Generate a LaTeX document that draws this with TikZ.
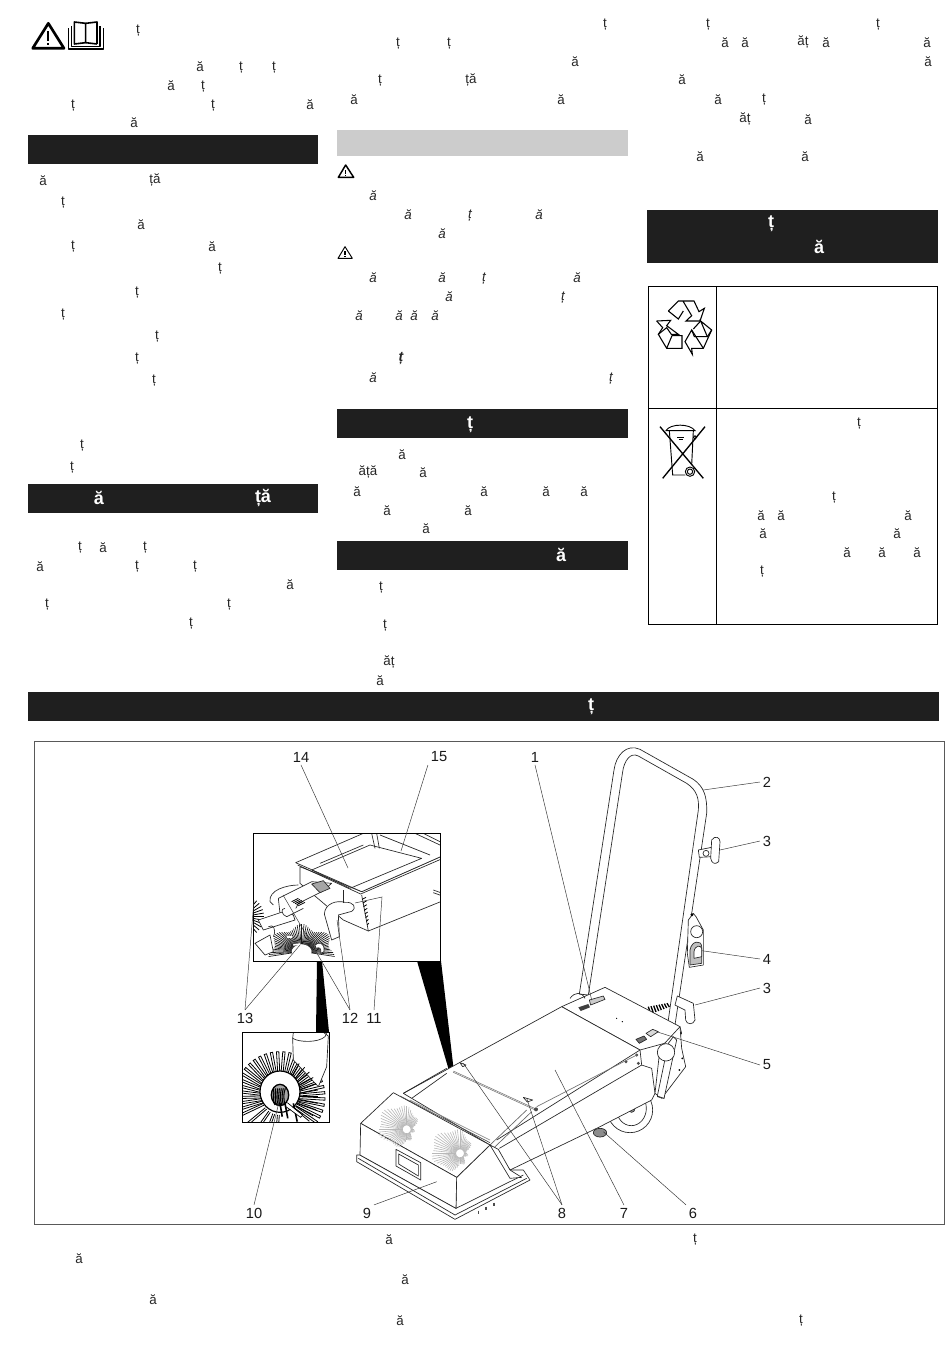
\documentclass[tikz,border=0pt]{standalone}
\usepackage{fontspec}
\setmainfont{Liberation Sans}
\begin{document}
\begin{tikzpicture}[x=0.75pt,y=-0.75pt,
  glyph/.style={inner sep=0pt,yshift=-1pt,font=\fontsize{10pt}{10pt}\selectfont,text=black!85},
  glyphit/.style={glyph,font=\fontsize{10pt}{10pt}\itshape\selectfont},
  glyphbi/.style={glyph,font=\fontsize{10.5pt}{10pt}\bfseries\itshape\selectfont},
  headg/.style={inner sep=0pt,font=\fontsize{13.5pt}{13pt}\bfseries\selectfont,text=white},
  bar/.style={fill=black!88,draw=none},
  num/.style={inner sep=0pt,outer sep=2.2pt,font=\fontsize{11pt}{11pt}\selectfont,text=black!90},
  lead/.style={line width=0.35pt,draw=black!80},
  mach/.style={line width=0.5pt,draw=black!85,line join=round},
  machw/.style={mach,fill=white},
  z1/.style={shift={(340,740)},x=0.25pt,y=-0.25pt},
  z2/.style={shift={(230,820)},x=0.25pt,y=-0.25pt},
  z3/.style={shift={(640,200)},x=0.25pt,y=-0.25pt},
  z4/.style={shift={(20,0)},x=0.25pt,y=-0.25pt},
  z5/.style={shift={(330,120)},x=0.25pt,y=-0.25pt},
  z6/.style={shift={(350,1090)},x=0.25pt,y=-0.25pt},
  z7/.style={shift={(650,295)},x=0.25pt,y=-0.25pt}]
\useasboundingbox (0,0) rectangle (950,1370);
\fill[white] (0,0) rectangle (950,1370);

% ---- bars
\fill[bar] (28,135) rectangle (318,164);
\fill[bar] (28,484) rectangle (318,513);
\fill[black!20] (337,130) rectangle (628,156);
\fill[bar] (337,409) rectangle (628,438);
\fill[bar] (337,541) rectangle (628,570);
\fill[bar] (647,210) rectangle (938,263);
\fill[bar] (28,692) rectangle (939,721);

% ---- text glyphs
\foreach \x/\y/\t [count=\i] in {
 138/29/ț,200/65/ă,241/66/ț,274/66/ț,171/84/ă,203/85/ț,73/104/ț,213/104/ț,310/103/ă,134/121/ă,
 43/179/ă,155/179/ță,63/201/ț,141/223/ă,73/245/ț,212/245/ă,220/267/ț,137/291/ț,63/313/ț,157/335/ț,137/357/ț,154/379/ț,82/444/ț,72/466/ț,
 80/546/ț,103/546/ă,145/546/ț,40/565/ă,137/565/ț,195/565/ț,290/583/ă,47/603/ț,229/603/ț,191/622/ț,
 605/23/ț,398/42/ț,449/42/ț,575/60/ă,380/79/ț,471/79/ță,354/98/ă,561/98/ă,
 402/453/ă,368/471/ăță,423/471/ă,357/490/ă,484/490/ă,546/490/ă,584/490/ă,387/509/ă,468/509/ă,426/527/ă,
 381/586/ț,385/624/ț,389/661/ăț,380/679/ă,
 708/23/ț,878/23/ț,725/41/ă,745/41/ă,803/41/ăț,826/41/ă,927/41/ă,928/60/ă,682/78/ă,718/98/ă,764/98/ț,745/118/ăț,808/118/ă,700/155/ă,805/155/ă,
 859/422/ț,834/496/ț,761/514/ă,781/514/ă,908/514/ă,763/532/ă,897/532/ă,847/551/ă,882/551/ă,917/551/ă,762/570/ț,
 389/1238/ă,695/1238/ț,79/1257/ă,405/1278/ă,153/1298/ă,400/1319/ă,801/1319/ț}
 {\node[glyph] (g\i) at (\x,\y) {\t};}
\foreach \x/\y/\t [count=\i] in {
 373/194/ă,408/213/ă,470/214/ț,539/213/ă,442/232/ă,373/276/ă,442/276/ă,484/277/ț,577/276/ă,449/295/ă,563/296/ț,359/314/ă,399/314/ă,414/314/ă,435/314/ă,373/376/ă,611/377/ț}
 {\node[glyphit] (gi\i) at (\x,\y) {\t};}
\node[glyphbi] (gb) at (401,357) {ț};
\foreach \x/\y/\t [count=\i] in {99/498/ă,263/498/ță,470/425/ț,561/555/ă,771/224/ț,819/247/ă,591/707/ț}
 {\node[headg] (h\i) at (\x,\y) {\t};}

% ---- warning + book icons (top left)
\begin{scope}[z4]
 \draw[line width=2pt,line join=round] (85,70) -- (38,145) -- (132,145) -- cycle;
 \fill (82,92) rectangle (88,123); \fill (82,128) rectangle (88,136);
 \draw[line width=1.2pt,line join=round] (163,132) -- (163,66) -- (197,70) -- (197,128) -- cycle;
 \draw[line width=1.2pt,line join=round] (231,132) -- (231,66) -- (197,70);
 \draw[line width=1.2pt] (197,128) -- (231,132);
 \draw[line width=1.2pt,line join=round] (154,78) -- (154,139) -- (240,139) -- (240,78);
 \draw[line width=1.2pt,line join=round] (146,85) -- (146,147) -- (250,147) -- (250,85);
\end{scope}
% small warning icons
\begin{scope}[z5]
 \draw[line width=1.1pt,line join=round] (47,135) -- (25,172) -- (71,172) -- cycle;
 \fill (45,150) rectangle (49,163); \fill (45,165) rectangle (49,169);
 \draw[line width=0.7pt,line join=round] (45,380) -- (24,415) -- (67,415) -- cycle;
 \fill (43,394) rectangle (47,406); \fill (43,408) rectangle (47,412);
\end{scope}

% ---- disposal table
\draw[line width=0.6pt] (648,286.5) rectangle (937.5,624);
\draw[line width=0.6pt] (716.5,286.5) -- (716.5,624);
\draw[line width=0.6pt] (648,408.5) -- (937.5,408.5);
\begin{scope}[z7,line width=0.8pt,line join=miter]
 % recycling arrows
 \draw (55,48) -- (85,18) -- (132,18) -- (147,50) -- (163,40) -- (150,78) -- (108,78) -- (125,62) -- (100,20);
 \draw (55,48) -- (85,72) -- (100,48);
 \draw (20,78) -- (62,76) -- (50,92) -- (85,118) -- (64,118) -- (50,98) -- (25,118) -- (50,160) -- (96,160) -- (96,122) -- (66,122) -- (50,160);
 \draw (20,78) -- (38,98) -- (25,118);
 \draw (127,178) -- (105,140) -- (125,105) -- (133,125) -- (172,125) -- (152,78) -- (185,105) -- (160,160) -- (125,160) -- cycle;
 \draw (130,102) -- (152,78); \draw (185,105) -- (172,125);
 \draw (125,105) -- (160,160);
\end{scope}
\begin{scope}[z3,line width=0.7pt]
 % crossed bin
 \draw (78,692) .. controls (90,670) and (150,670) .. (165,692) -- cycle;
 \draw (88,692) -- (98,825) -- (136,825);
 \draw (160,692) -- (155,795);
 \draw (165,712) circle (5);
 \draw (150,815) circle (14); \draw (150,815) circle (8);
 \draw (112,713) -- (132,713); \draw (116,718) -- (128,718);
 \draw[line width=1pt] (60,680) -- (190,835);
 \draw[line width=1pt] (195,680) -- (68,835);
\end{scope}

% ---- figure frame
\draw[line width=0.6pt,draw=black!65] (34,741.5) rectangle (944,1224);

% ---- black wedges
\fill[black] (417,961) -- (441,961) -- (457,1098) -- cycle;
\fill[black] (317,961) -- (322,961) -- (329,1032) -- (316,1032) -- cycle;

% ---- machine
\begin{scope}[z1]
 % wheel
 \draw[machw] (870,1110) ellipse (68 and 68);
 \draw[mach] (874,1105) ellipse (45 and 52);
 \draw[mach,fill=black!40] (875,1105) ellipse (10 and 12);
 \draw[mach,fill=black!45] (780,1178) ellipse (20 and 13);
 % spring
 \foreach \k in {0,...,7} {\draw[line width=1pt] (925+\k*8,800+\k*-1.5) -- (932+\k*8,822+\k*-3);}
 % handle
 \draw[machw] (718,762) -- (822,90) .. controls (828,45) and (860,10) .. (900,28) -- (1060,118) .. controls (1092,140) and (1102,170) .. (1100,220) -- (972,1075) -- (952,1070) -- (1075,210) .. controls (1078,175) and (1070,150) .. (1040,130) -- (895,48) .. controls (870,35) and (852,65) .. (848,95) -- (745,765) -- cycle;
 % top panel
 \draw[machw] (665,800) -- (795,742) -- (1020,860) -- (1025,880) -- (1010,900) -- (900,930) -- cycle;
 \draw[mach] (690,775) .. controls (705,755) and (725,755) .. (735,775);
 \fill[black!75] (715,802) -- (745,792) -- (750,802) -- (722,813) -- cycle;
 \draw[mach,fill=black!20] (748,780) -- (790,768) -- (795,778) -- (752,795) -- cycle;
 \fill (830,835) circle (2); \fill (847,845) circle (2);
 \draw[mach,fill=black!55] (888,898) -- (912,888) -- (920,898) -- (898,910) -- cycle;
 \draw[mach,fill=black!15] (918,880) -- (938,868) -- (955,875) -- (932,890) -- cycle;
 % body
 \draw[machw] (190,1060) -- (665,800) -- (900,930) -- (905,975) -- (935,985) -- (945,1060) -- (935,1080) -- (780,1160) -- (510,1290) -- (450,1215) -- cycle;
 \draw[mach] (900,930) -- (470,1200);
 \draw[mach] (905,975) -- (478,1225);
 \draw[mach,draw=black!55,double,double distance=0.3pt] (340,995) -- (590,1110);
 \fill[black!70] (858,965) circle (5); \fill[black!70] (890,945) circle (5); \fill[black!70] (895,970) circle (5); \fill[black!70] (588,1108) circle (6);
 \draw[mach,draw=black!55] (590,1100) -- (890,945);
 \draw[mach] (360,968) -- (378,975) -- (368,980) -- cycle;
 \draw[mach] (550,1072) -- (578,1080) -- (562,1086) -- cycle;
 % side bracket
 \draw[machw] (960,925) -- (1020,860) -- (1025,925) -- (1037,980) -- (965,1075) -- (945,1060) -- cycle;
 \fill (1027,955) circle (3); \fill (1018,990) circle (3);
 % handle over bracket
 \draw[machw] (985,910) -- (1000,890) -- (1010,900) -- (972,1075) -- (952,1068) -- cycle;
 \draw[machw] (978,937) circle (26);
 % hooks
 \draw[machw] (1075,330) -- (1115,322) -- (1115,350) -- (1078,352) -- cycle;
 \draw[machw] (1115,300) .. controls (1125,285) and (1140,292) .. (1140,305) -- (1136,365) .. controls (1125,375) and (1115,370) .. (1112,355) -- cycle;
 \draw[mach] (1098,340) circle (9);
 \draw[machw] (1045,540) -- (1060,520) -- (1068,530) -- (1090,570) -- (1090,675) -- (1048,682) -- (1042,640) -- cycle;
 \fill (1056,524) circle (5);
 \draw[mach] (1070,575) circle (18);
 \draw[mach,fill=black!25] (1050,630) .. controls (1055,600) and (1085,600) .. (1085,620) -- (1085,670) -- (1050,675) -- cycle;
 \draw[machw] (1062,635) .. controls (1065,615) and (1082,615) .. (1085,625) -- (1085,650) -- (1062,655) -- cycle;
 \draw[machw] (1012,768) -- (1060,790) -- (1065,840) .. controls (1060,855) and (1040,855) .. (1037,840) -- (1035,810) -- (1005,795) -- cycle;
 \draw[mach] (190,1060) -- (320,985);
 \draw[mach] (215,1075) -- (320,1000);
 \draw[mach,draw=black!60] (450,1215) -- (560,1110);
 \draw[mach,draw=black!60] (460,1225) -- (575,1115);
\end{scope}

% ---- hood
\begin{scope}[z6]
 \draw[machw] (20,195) -- (20,215) -- (315,388) -- (540,270) -- (520,240) -- (480,240) -- (420,165) -- (320,262) -- (318,355) -- (30,195) -- cycle;
 \draw[mach] (25,205) -- (315,375) -- (530,265);
 \draw[mach] (318,355) -- (520,255);
 \draw[machw] (130,8) -- (420,165) -- (320,262) -- (32,100) -- cycle;
 \draw[machw] (32,100) -- (30,195) -- (318,355) -- (320,262) -- cycle;
 \foreach \cx/\cy in {170/118,330/190} {
  \foreach \a in {0,6,...,354} {
   \draw[line width=0.45pt,draw=black!28] ({\cx+12*cos(\a)},{\cy+12*sin(\a)}) -- ({\cx+(52+34*cos(\a-205)+6*sin(7*\a))*cos(\a)},{\cy+(52+30*cos(\a-205)+6*sin(7*\a))*sin(\a)});}}
 \draw[mach,draw=black!70] (150,18) -- (420,158);
 \draw[mach,draw=black!45] (180,30) -- (420,150);
 \draw[mach] (138,178) -- (212,218) -- (212,270) -- (138,228) -- cycle;
 \draw[mach] (146,192) -- (205,225) -- (205,258) -- (146,222) -- cycle;
 \draw[machw] (420,165) -- (445,178) -- (480,240) -- (515,262) -- (480,265) -- cycle;
 \foreach \q/\r in {385/362,408/350,432/338} {\draw[line width=0.9pt,draw=black!70] (\q,\r) -- (\q,\r+10);}
\end{scope}

% ---- inset 1
\begin{scope}[z2]
 \begin{scope}
  \clip (70,40) rectangle (632,424);
  % brushes
  \foreach \a in {170,174,...,370} {\draw[line width=0.5pt,draw=black!90] ({215+30*cos(\a)},{395+22*sin(\a)}) -- ({215+(92+9*sin(7*\a))*cos(\a)},{395+(75+9*sin(7*\a))*sin(\a)});}
  \foreach \a in {-50,-40,...,60} {\draw[line width=0.6pt] ({40+28*cos(\a)},{290+28*sin(\a)}) -- ({40+(62)*cos(\a)},{290+(62)*sin(\a)});}
  % box
  \draw[machw] (210,140) -- (210,190) -- (340,300) -- (415,333) -- (632,245) -- (632,110) -- (395,215) -- cycle;
  \draw[mach] (400,250) -- (415,333) -- (395,225);
  \foreach \k in {0,...,7} {\draw[line width=0.6pt] (396+\k*2.2,238+\k*11) -- (408+\k*1.2,232+\k*11);}
  \draw[mach,fill=white] (197,128) -- (400,40) -- (580,40) -- (640,70) -- (632,110) -- (395,215) -- cycle;
  \draw[mach] (203,135) -- (392,222) -- (632,118);
  \draw[mach] (245,150) -- (420,75) -- (575,115) -- (360,205) -- cycle;
  \draw[mach] (270,130) -- (400,75);
  \draw[mach] (425,40) -- (435,85); \draw[mach] (440,40) -- (448,85);
  \draw[mach] (450,45) -- (600,105);
  \draw[mach] (555,40) -- (630,75);
  \draw[mach] (610,210) -- (632,218); \draw[mach] (610,218) -- (632,226);
  % tube and motor
  \draw[machw] (145,235) -- (245,185) -- (305,190) -- (275,215) -- (205,250) -- (185,290) -- (150,280) -- cycle;
  \draw[mach,fill=black!35] (245,192) -- (280,182) -- (300,205) -- (270,218) -- cycle;
  \draw[mach] (120,245) .. controls (115,210) and (170,195) .. (205,195);
  \draw[mach] (120,245) -- (130,255);
  \foreach \k in {0,...,4} {\draw[line width=0.6pt] (185+\k*5,245+\k*3) -- (205+\k*5,235+\k*3);}
  \draw[machw] (85,300) -- (160,275) -- (190,285) -- (195,300) -- (100,330) -- cycle;
  \draw[machw] (165,265) .. controls (150,265) and (155,285) .. (170,290) -- (220,265);
  \draw[machw] (75,370) -- (120,345) -- (130,395) -- (105,405) -- cycle;
  \draw[mach] (115,320) .. controls (130,310) and (140,330) .. (130,350);
  % elbow
  \draw[machw] (283,282) .. controls (285,250) and (320,240) .. (345,247) .. controls (370,245) and (382,262) .. (365,274) -- (325,285) -- (328,350) -- (305,360) -- cycle;
  \draw[mach] (340,210) -- (340,250);
  \draw[machw] (255,375) .. controls (265,365) and (285,365) .. (282,395) -- (272,400) .. controls (275,385) and (268,380) .. (258,385) -- cycle;
  \draw[line width=1.4pt,white] (170,350) -- (185,350); \draw[line width=1.2pt,white] (190,375) -- (210,372);
 \end{scope}
 \draw[line width=0.7pt] (70,40) rectangle (632,424);
\end{scope}

% ---- inset 2
\begin{scope}[z2]
 \begin{scope}
  \clip (36,637) rectangle (298,907);
  \foreach \a in {95,110,125,140,155,163,...,400} {
   \draw[line width=0.6pt] ({150+55*cos(\a-3)},{830+55*sin(\a-3)}) -- ({150+(135)*cos(\a-1.5)},{830+(135)*sin(\a-1.5)}) -- ({150+(135)*cos(\a+1.5)},{830+(135)*sin(\a+1.5)}) -- ({150+55*cos(\a+3)},{830+55*sin(\a+3)});}
  \draw[machw] (188,655) -- (190,637) -- (280,637) -- (295,648) -- (290,740) -- (265,800) -- (190,720) -- cycle;
  \draw[mach] (188,655) .. controls (210,668) and (265,668) .. (285,650);
  \draw[mach] (285,650) -- (290,640);
  \foreach \a in {300,310,...,400} {
   \draw[line width=0.6pt] ({150+55*cos(\a)},{830+55*sin(\a)}) -- ({150+(115)*cos(\a)},{830+(115)*sin(\a)});}
  \draw[line width=0.9pt,fill=white] (150,815) ellipse (60 and 62);
  \draw[line width=1pt,fill=black!35] (150,825) ellipse (26 and 32);
  \foreach \k in {0,...,6} {\draw[line width=0.8pt] (130+\k*6,805) .. controls (135+\k*4,825) and (125+\k*6,835) .. (135+\k*5,855);}
  \foreach \q/\r in {150/110,165/115,190/125} {\draw[line width=1.2pt] (\q,850) -- (\q-30+\r/3,\r+780);}
  \draw[line width=2pt,white] (172,855) -- (215,890);
  \draw[line width=0.5pt] (172,848) -- (218,885) -- (212,892) -- (165,858);
 \end{scope}
 \draw[line width=0.7pt] (36,637) rectangle (298,907);
\end{scope}

% ---- callout numbers and leaders
\node[num] (n14) at (301,757) {14};
\node[num] (n15) at (439,757) {15};
\node[num] (n1) at (535,757) {1};
\node[num] (n2) at (767,782) {2};
\node[num] (n3a) at (767,841) {3};
\node[num] (n4) at (767,959) {4};
\node[num] (n3b) at (767,988) {3};
\node[num] (n5) at (767,1065) {5};
\node[num] (n6) at (693,1213) {6};
\node[num] (n7) at (624,1213) {7};
\node[num] (n8) at (562,1213) {8};
\node[num] (n9) at (367,1213) {9};
\node[num] (n10) at (254,1213) {10};
\node[num] (n11) at (374,1018) {11};
\node[num] (n12) at (350,1018) {12};
\node[num] (n13) at (245,1018) {13};

\coordinate (t14) at (348,868); \coordinate (t15) at (401,851);
\coordinate (t1) at (591.7,1000); \coordinate (t2) at (703.3,790);
\coordinate (t3a) at (720,850); \coordinate (t4) at (702,950.7);
\coordinate (t3b) at (695,1005); \coordinate (t5) at (656.7,1031.7);
\coordinate (t6) at (603.3,1131.7); \coordinate (t7) at (555,1070);
\coordinate (t8a) at (463.3,1063.3); \coordinate (t8b) at (526.7,1098.3);
\coordinate (t9) at (436.7,1181.7); \coordinate (t10) at (280,1098);
\coordinate (t11) at (382,897); \coordinate (t11b) at (355,903);
\coordinate (t12a) at (283,895); \coordinate (t12b) at (337,920);
\coordinate (t13a) at (254,900); \coordinate (t13b) at (300,945);
\draw[lead] (n14.south) -- (t14);
\draw[lead] (n15.south west) -- (t15);
\draw[lead] (n1.south) -- (t1);
\draw[lead] (n2.west) -- (t2);
\draw[lead] (n3a.west) -- (t3a);
\draw[lead] (n4.west) -- (t4);
\draw[lead] (n3b.west) -- (t3b);
\draw[lead] (n5.west) -- (t5);
\draw[lead] (n6.north west) -- (t6);
\draw[lead] (n7.north) -- (t7);
\draw[lead] (n8.north) -- (t8a);
\draw[lead] (n8.north) -- (t8b);
\draw[lead] (n9.north east) -- (t9);
\draw[lead] (n10.north) -- (t10);
\draw[lead] (n11.north) -- (t11) -- (t11b);
\draw[lead] (n12.north) -- (t12a);
\draw[lead] (n12.north) -- (t12b);
\draw[lead] (n13.north) -- (t13a);
\draw[lead] (n13.north) -- (t13b);
\end{tikzpicture}
\end{document}
